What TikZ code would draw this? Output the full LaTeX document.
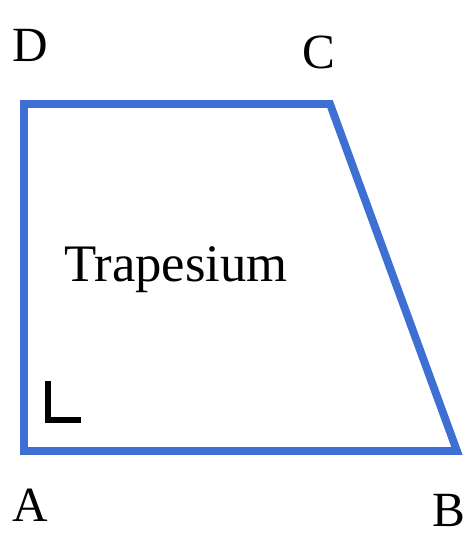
\documentclass[tikz,border=0pt]{standalone}
\usepackage{fontspec}
\setmainfont{Liberation Serif}
\tikzset{side/.style={draw=trapblue,line width=4.5pt,line join=miter},
  lbl/.style={font=\fontsize{28}{30}\selectfont,inner sep=0pt}}
\definecolor{trapblue}{RGB}{62,112,212}
\begin{document}
\begin{tikzpicture}[x=0.02cm,y=-0.02cm]
\useasboundingbox (0,0) rectangle (464,535);
\coordinate (A) at (24,451);
\coordinate (B) at (457,451);
\coordinate (C) at (330,104);
\coordinate (D) at (24,104);

\draw[side] (A) -- (B) -- (C) -- (D) -- cycle;
\draw[line width=3.2pt] (48,381) -- (48,420) -- (81,420);

\node[lbl] (lA) at (30,505) {A};
\node[lbl] (lB) at (449,510) {B};
\node[lbl] (lC) at (319,52) {C};
\node[lbl] (lD) at (30,45) {D};
\node[inner sep=0pt,font=\fontsize{30}{32}\selectfont] (name) at (176,270) {Trapesium};
\end{tikzpicture}
\end{document}
